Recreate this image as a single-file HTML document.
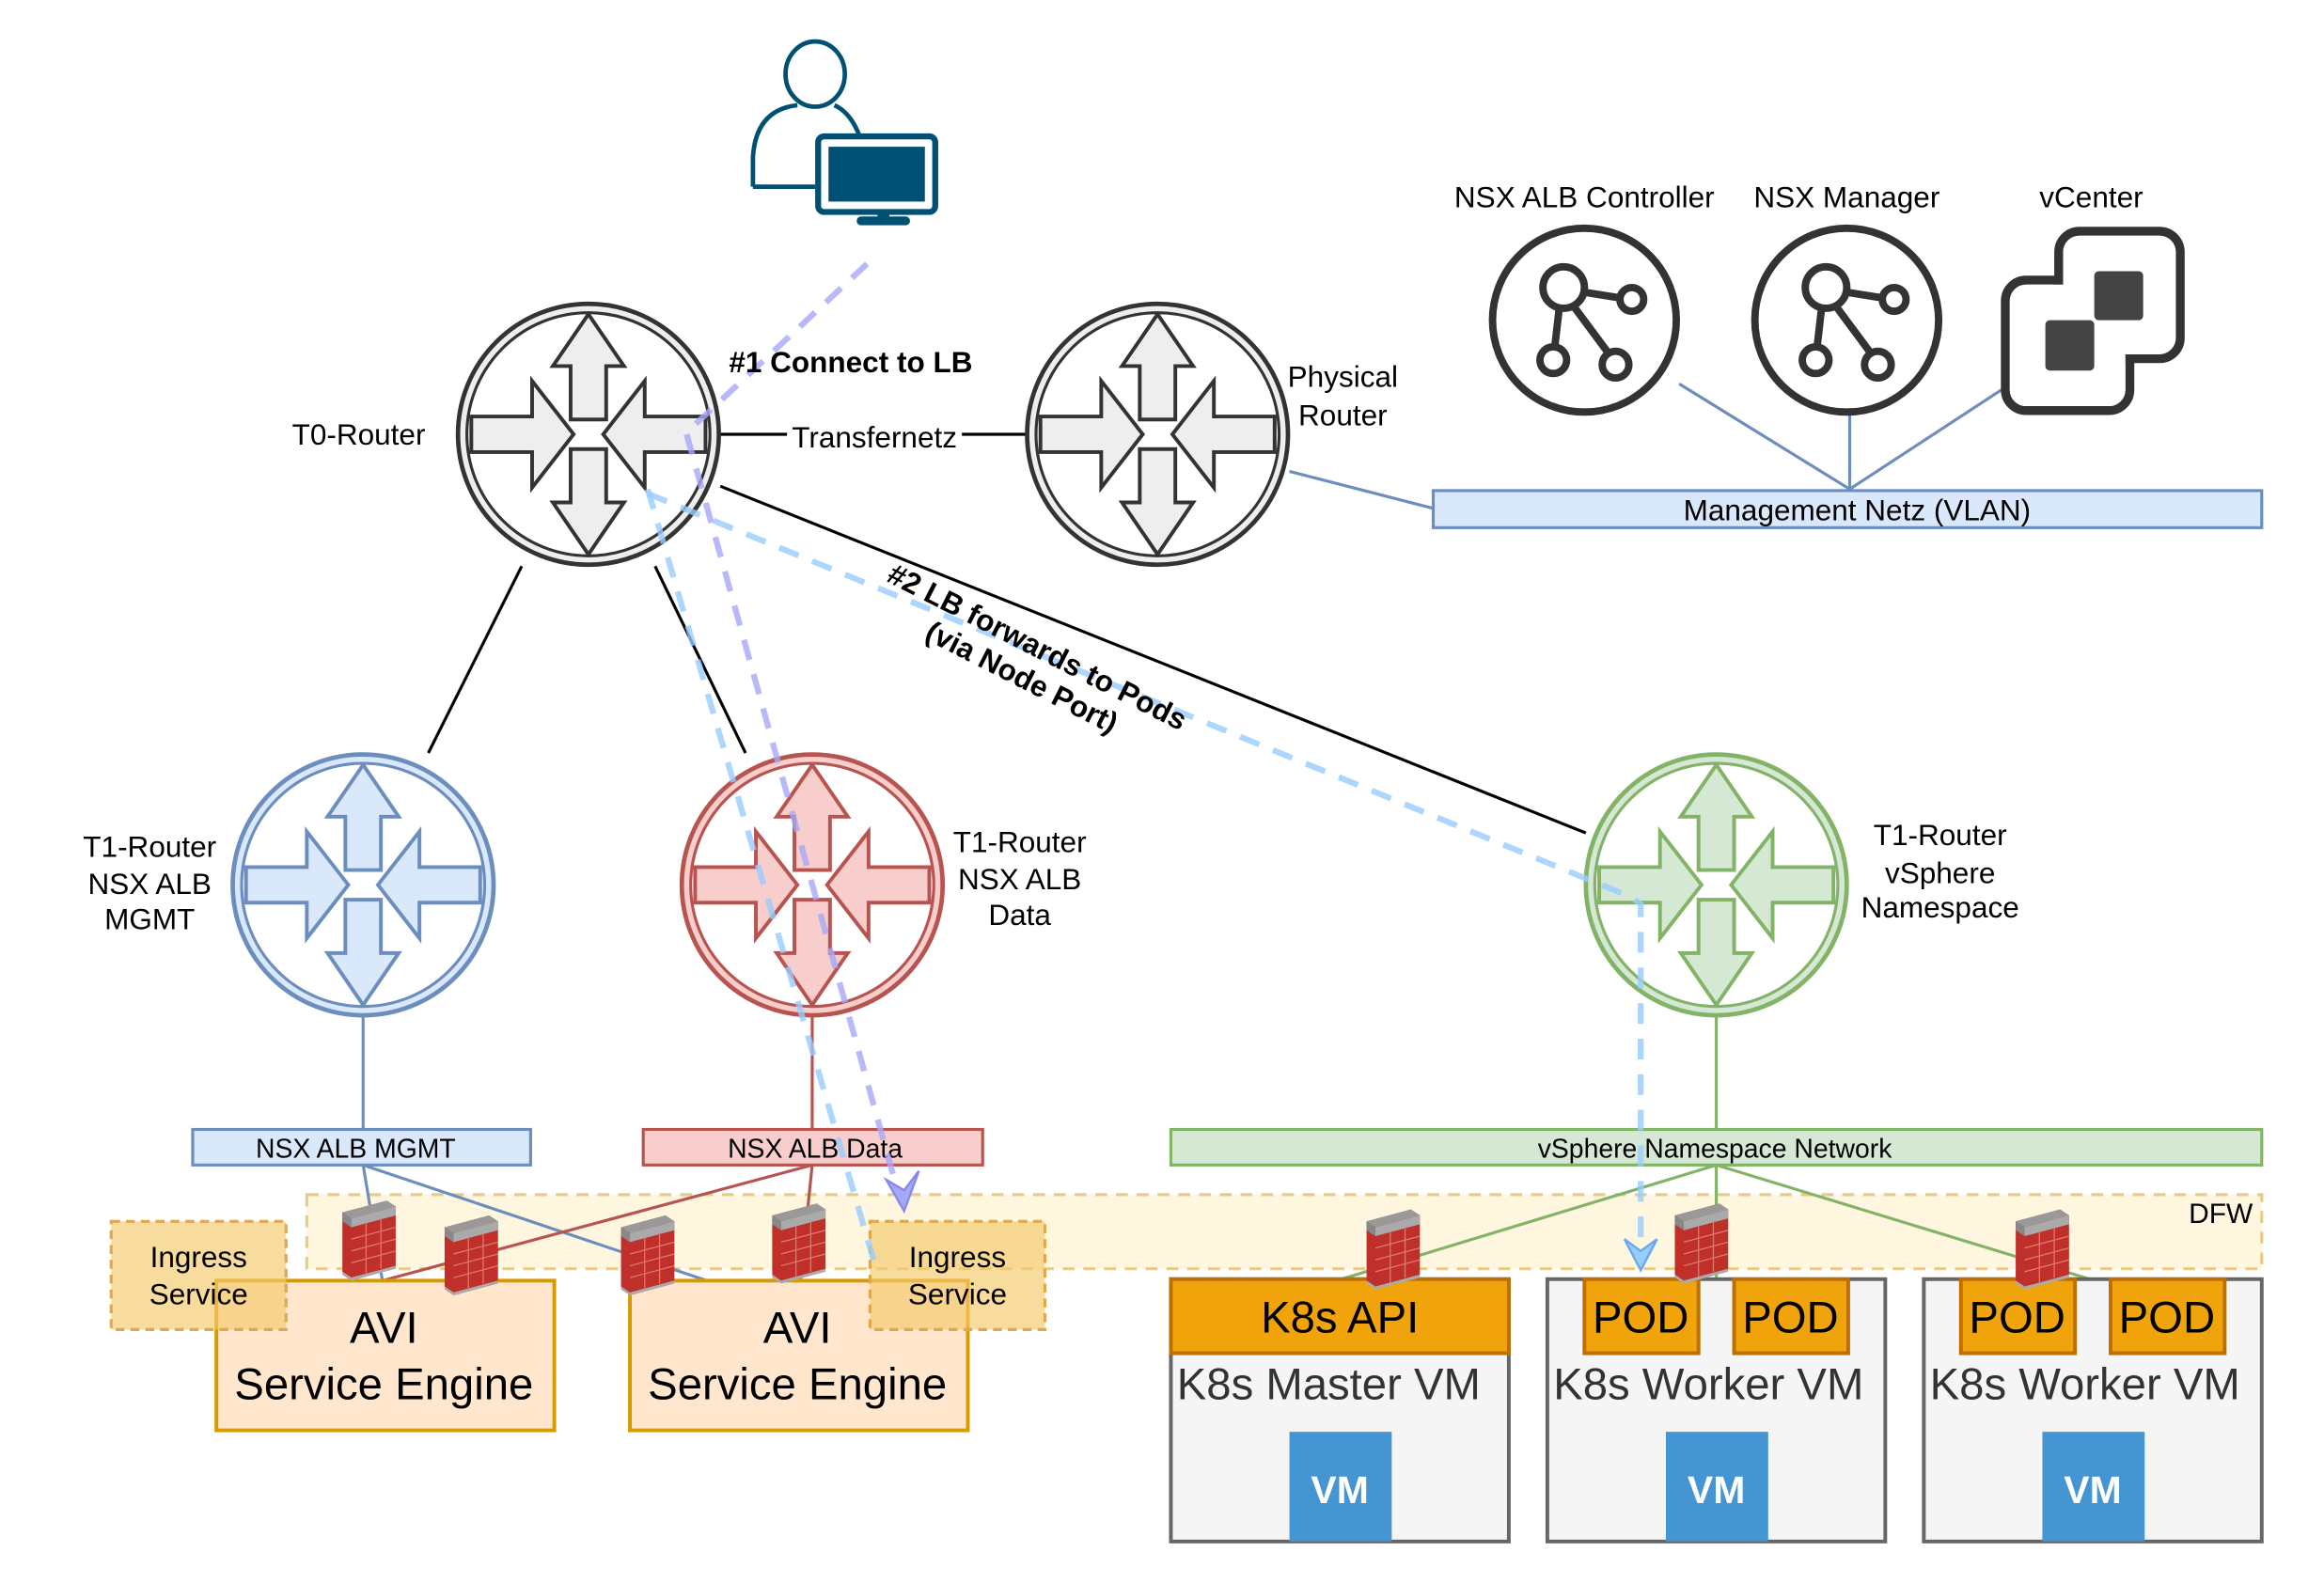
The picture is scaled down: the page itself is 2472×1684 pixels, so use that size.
<!DOCTYPE html>
<html><head><meta charset="utf-8"><style>
html,body{margin:0;padding:0;background:#fff;}
svg{display:block;}
text{font-family:"Liberation Sans",Arial,sans-serif;}
</style></head><body>
<svg width="2472" height="1684" viewBox="0 0 1568 1068" preserveAspectRatio="none" xmlns="http://www.w3.org/2000/svg">
<defs>
<g id="arr">
<polygon points="0,-81 24,-46 12,-46 12,-10 -12,-10 -12,-46 -24,-46"/>
<polygon points="0,81 24,46 12,46 12,10 -12,10 -12,46 -24,46"/>
<polygon points="-79,-12 -38,-12 -38,-36 -10,0 -38,36 -38,12 -79,12"/>
<polygon points="79,-12 38,-12 38,-36 10,0 38,36 38,12 79,12"/>
</g>
<g id="fw">
<polygon points="0,8 30,0 36,4 36,44 6,52 0,48" fill="#c0302a"/>
<polygon points="0,8 30,0 36,4 6,12" fill="#999"/>
<polygon points="0,8 6,12 6,18 0,14" fill="#888"/>
<polygon points="6,12 36,4 36,10 6,18" fill="#aaa"/>
<g stroke="#e07a70" stroke-width="0.8" fill="none">
<line x1="6" y1="26" x2="36" y2="18"/><line x1="6" y1="34" x2="36" y2="26"/><line x1="6" y1="42" x2="36" y2="34"/>
<line x1="16" y1="15" x2="16" y2="49"/><line x1="26" y1="12" x2="26" y2="46"/>
</g>
<polygon points="0,48 6,52 36,44 36,46 6,54 0,50" fill="#aaa"/>
</g>
<g id="net" fill="none" stroke="#333" stroke-width="5">
<circle cx="-14" cy="-22" r="14" fill="#fff"/>
<circle cx="32" cy="-14" r="8"/>
<circle cx="-21" cy="27" r="9"/>
<circle cx="21" cy="30" r="9"/>
<line x1="-1" y1="-19" x2="24" y2="-15"/>
<line x1="-17" y1="-8" x2="-20" y2="18"/>
<line x1="-7" y1="-9" x2="16" y2="22"/>
</g>
</defs>

<rect x="207" y="806" width="1319" height="50" fill="#fff6df" stroke="#e6cc88" stroke-width="2" stroke-dasharray="8,6"/>
<text x="1520" y="825" font-size="19" text-anchor="end">DFW</text>

<g stroke="#000" stroke-width="2">
<line x1="486" y1="293" x2="692" y2="293"/>
<line x1="352" y1="382" x2="289" y2="508"/>
<line x1="442" y1="382" x2="503" y2="508"/>
<line x1="486" y1="328" x2="1070" y2="562"/>
</g>
<rect x="531" y="283" width="118" height="22" fill="#fff"/>
<text x="590" y="302" font-size="20" text-anchor="middle">Transfernetz</text>

<g stroke="#6c8ebf" stroke-width="2">
<line x1="870" y1="318" x2="967" y2="343"/>
<line x1="1133" y1="259" x2="1248" y2="330"/>
<line x1="1248" y1="278" x2="1248" y2="330"/>
<line x1="1352" y1="262" x2="1248" y2="330"/>
<line x1="245" y1="685" x2="245" y2="762"/>
<line x1="245" y1="786" x2="258" y2="864"/>
<line x1="245" y1="786" x2="477" y2="864"/>
</g>
<g stroke="#b85450" stroke-width="2">
<line x1="548" y1="685" x2="548" y2="762"/>
<line x1="548" y1="786" x2="258" y2="864"/>
<line x1="548" y1="786" x2="540" y2="864"/>
</g>
<g stroke="#82b366" stroke-width="2">
<line x1="1158" y1="685" x2="1158" y2="762"/>
<line x1="1158" y1="786" x2="905" y2="863"/>
<line x1="1158" y1="786" x2="1158" y2="863"/>
<line x1="1158" y1="786" x2="1410" y2="863"/>
</g>

<rect x="967" y="331" width="559" height="25" fill="#dae8fc" stroke="#6c8ebf" stroke-width="2"/>
<text x="1253" y="351" font-size="20" text-anchor="middle">Management Netz (VLAN)</text>

<g transform="translate(397,293)">
<circle r="88" fill="#eee" stroke="#333" stroke-width="3"/><circle r="82" fill="#fff" stroke="#333" stroke-width="2"/>
<use href="#arr" fill="#eee" stroke="#333" stroke-width="2.5"/>
</g>
<g transform="translate(781,293)">
<circle r="88" fill="#eee" stroke="#333" stroke-width="3"/><circle r="82" fill="#fff" stroke="#333" stroke-width="2"/>
<use href="#arr" fill="#eee" stroke="#333" stroke-width="2.5"/>
</g>
<g transform="translate(245,597)">
<circle r="88" fill="#dae8fc" stroke="#6c8ebf" stroke-width="3"/><circle r="82" fill="#fff" stroke="#6c8ebf" stroke-width="2"/>
<use href="#arr" fill="#dae8fc" stroke="#6c8ebf" stroke-width="2.5"/>
</g>
<g transform="translate(548,597)">
<circle r="88" fill="#f8cecc" stroke="#b85450" stroke-width="3"/><circle r="82" fill="#fff" stroke="#b85450" stroke-width="2"/>
<use href="#arr" fill="#f8cecc" stroke="#b85450" stroke-width="2.5"/>
</g>
<g transform="translate(1158,597)">
<circle r="88" fill="#d5e8d4" stroke="#82b366" stroke-width="3"/><circle r="82" fill="#fff" stroke="#82b366" stroke-width="2"/>
<use href="#arr" fill="#d5e8d4" stroke="#82b366" stroke-width="2.5"/>
</g>

<g font-size="20">
<text x="287" y="300" text-anchor="end">T0-Router</text>
<text x="906" y="261" text-anchor="middle">Physical</text>
<text x="906" y="287" text-anchor="middle">Router</text>
<text x="101" y="578" text-anchor="middle">T1-Router</text>
<text x="101" y="603" text-anchor="middle">NSX ALB</text>
<text x="101" y="627" text-anchor="middle">MGMT</text>
<text x="688" y="575" text-anchor="middle">T1-Router</text>
<text x="688" y="600" text-anchor="middle">NSX ALB</text>
<text x="688" y="624" text-anchor="middle">Data</text>
<text x="1309" y="570" text-anchor="middle">T1-Router</text>
<text x="1309" y="596" text-anchor="middle">vSphere</text>
<text x="1309" y="619" text-anchor="middle">Namespace</text>
<text x="1069" y="140" text-anchor="middle">NSX ALB Controller</text>
<text x="1246" y="140" text-anchor="middle">NSX Manager</text>
<text x="1411" y="140" text-anchor="middle">vCenter</text>
</g>

<g transform="translate(1069,216)"><ellipse rx="62" ry="62" fill="#fff" stroke="#333" stroke-width="5"/><use href="#net"/></g>
<g transform="translate(1246,216)"><ellipse rx="62" ry="62" fill="#fff" stroke="#333" stroke-width="5"/><use href="#net"/></g>
<g stroke="#333" stroke-width="6" fill="#fff">
<rect x="1353" y="189" width="84" height="88" rx="14"/>
<rect x="1389" y="156" width="82" height="86" rx="14"/>
</g>
<rect x="1356" y="192" width="78" height="82" rx="11" fill="#fff"/>
<rect x="1392" y="159" width="76" height="80" rx="11" fill="#fff"/>
<rect x="1380" y="216" width="33" height="34" rx="3" fill="#444"/>
<rect x="1413" y="183" width="33" height="33" rx="3" fill="#444"/>

<g fill="none" stroke="#005073" stroke-width="3">
<ellipse cx="550" cy="50" rx="20" ry="22"/>
</g>
<rect x="552" y="92" width="79" height="51" rx="4" fill="#fff" stroke="#005073" stroke-width="4"/>
<rect x="559" y="99" width="65" height="37" fill="#005073"/>
<rect x="592" y="143" width="8" height="6" fill="#005073"/>
<rect x="578" y="146" width="36" height="6" rx="3" fill="#005073"/>
<path d="M508,126 L550,126 M508,126 L508,106 Q510,74 538,71" fill="none" stroke="#005073" stroke-width="3"/>
<path d="M563,71 Q574,76 580,92" fill="none" stroke="#005073" stroke-width="3"/>

<rect x="130" y="762" width="228" height="24" fill="#dae8fc" stroke="#6c8ebf" stroke-width="2"/>
<text x="240" y="781" font-size="18" text-anchor="middle">NSX ALB MGMT</text>
<rect x="434" y="762" width="229" height="24" fill="#f8cecc" stroke="#b85450" stroke-width="2"/>
<text x="550" y="781" font-size="18" text-anchor="middle">NSX ALB Data</text>
<rect x="790" y="762" width="736" height="24" fill="#d5e8d4" stroke="#82b366" stroke-width="2"/>
<text x="1157" y="781" font-size="18" text-anchor="middle">vSphere Namespace Network</text>

<rect x="146" y="864" width="228" height="101" fill="#ffe6cc" stroke="#d79b00" stroke-width="2.5"/>
<rect x="425" y="864" width="228" height="101" fill="#ffe6cc" stroke="#d79b00" stroke-width="2.5"/>
<g font-size="30" text-anchor="middle">
<text x="259" y="906">AVI</text><text x="259" y="944">Service Engine</text>
<text x="538" y="906">AVI</text><text x="538" y="944">Service Engine</text>
</g>
<rect x="75" y="824" width="118" height="73" fill="#f5c96a" fill-opacity="0.65" stroke="#e0a84a" stroke-width="2" stroke-dasharray="6,4"/>
<rect x="587" y="824" width="118" height="73" fill="#f5c96a" fill-opacity="0.65" stroke="#e0a84a" stroke-width="2" stroke-dasharray="6,4"/>
<g font-size="20" text-anchor="middle">
<text x="134" y="855">Ingress</text><text x="134" y="880">Service</text>
<text x="646" y="855">Ingress</text><text x="646" y="880">Service</text>
</g>

<g stroke="#666" stroke-width="2.5" fill="#f5f5f5">
<rect x="790" y="863" width="228" height="177"/>
<rect x="1044" y="863" width="228" height="177"/>
<rect x="1298" y="863" width="228" height="177"/>
</g>
<g fill="#f0a30a" stroke="#bd7000" stroke-width="2.5">
<rect x="790" y="863" width="228" height="50"/>
<rect x="1069" y="863" width="77" height="50"/>
<rect x="1170" y="863" width="77" height="50"/>
<rect x="1323" y="863" width="77" height="50"/>
<rect x="1424" y="863" width="77" height="50"/>
</g>
<g font-size="30" text-anchor="middle">
<text x="904" y="899">K8s API</text>
<text x="1107" y="899">POD</text><text x="1208" y="899">POD</text>
<text x="1361" y="899">POD</text><text x="1462" y="899">POD</text>
</g>
<g font-size="30" fill="#333">
<text x="794" y="944">K8s Master VM</text>
<text x="1048" y="944">K8s Worker VM</text>
<text x="1302" y="944">K8s Worker VM</text>
</g>
<g fill="#4495d1">
<rect x="870" y="966" width="69" height="74"/>
<rect x="1124" y="966" width="69" height="74"/>
<rect x="1378" y="966" width="69" height="74"/>
</g>
<g font-size="26" font-weight="bold" fill="#fff" text-anchor="middle">
<text x="904" y="1014">VM</text><text x="1158" y="1014">VM</text><text x="1412" y="1014">VM</text>
</g>

<use href="#fw" x="231" y="810"/>
<use href="#fw" x="300" y="820"/>
<use href="#fw" x="419" y="820"/>
<use href="#fw" x="521" y="812"/>
<use href="#fw" x="922" y="816"/>
<use href="#fw" x="1130" y="812"/>
<use href="#fw" x="1360" y="816"/>

<g fill="none" stroke-width="4" stroke-dasharray="14,10">
<path d="M585,178 L463,292 L608,812" stroke="#a8a8f8" stroke-opacity="0.8"/>
<path d="M437,330 L590,852" stroke="#99ccff" stroke-opacity="0.8"/>
<path d="M437,333 L1100,605 L1107,610 L1107,850" stroke="#99ccff" stroke-opacity="0.8"/>
</g>
<path d="M610,817 L598,796 L610,803 L620,790 Z" fill="#a8a8f8" stroke="#8888ee" stroke-width="1.5"/>
<path d="M1107,857 L1096,836 L1107,844 L1118,836 Z" fill="#99ccff" stroke="#66aaee" stroke-width="1.5"/>

<text x="574" y="251" font-size="20" font-weight="bold" text-anchor="middle">#1 Connect to LB</text>
<g transform="translate(695,446) rotate(27)" font-size="20" font-weight="bold" text-anchor="middle">
<text x="0" y="-4">#2 LB forwards to Pods</text>
<text x="0" y="19">(via Node Port)</text>
</g>
</svg>
</body></html>
